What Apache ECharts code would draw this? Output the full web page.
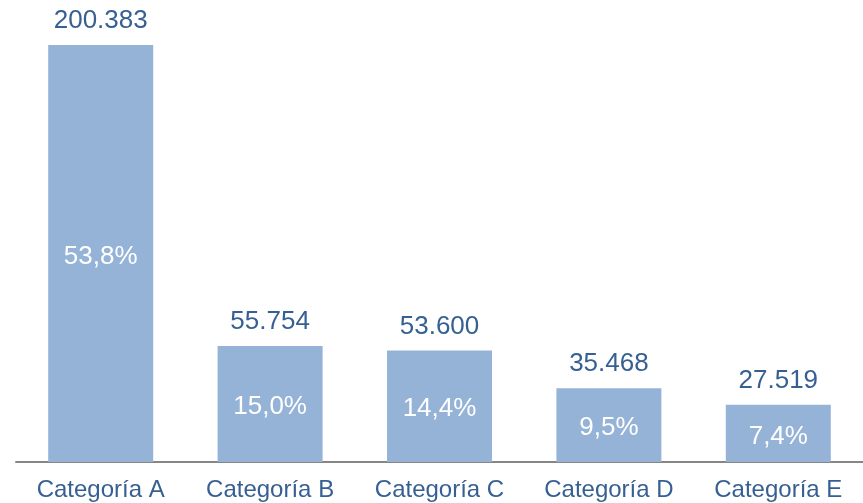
<!DOCTYPE html>
<html><head><meta charset="utf-8">
<script src="https://cdn.jsdelivr.net/npm/echarts@6/dist/echarts.min.js"></script>
<style>html,body{margin:0;padding:0;background:#fff}#c{width:863px;height:503px}</style>
</head><body><div id="c"></div>
<script>
const categories = ['Categoría A','Categoría B','Categoría C','Categoría D','Categoría E'];
const values = [200383, 55754, 53600, 35468, 27519];
const percents = ['53,8%','15,0%','14,4%','9,5%','7,4%'];

function fmt(v){ return String(v).replace(/\B(?=(\d{3})+(?!\d))/g,'.'); }
const font = '"Liberation Sans", Arial, sans-serif';
const chart = echarts.init(document.getElementById('c'));
chart.setOption({
  animation:false,
  grid:{left:16,right:0,top:45,bottom:41,containLabel:false},
  xAxis:{type:'category',data:categories,
    axisLine:{lineStyle:{color:'#868686',width:2}},
    axisTick:{show:false},
    axisLabel:{color:'#376092',fontSize:24,fontFamily:font,margin:16}},
  yAxis:{type:'value',min:0,max:200383,show:false,splitLine:{show:false}},
  series:[
    {type:'bar',data:values,barWidth:105,itemStyle:{color:'#95B3D7'},
     label:{show:true,position:'inside',offset:[0,3],color:'#fff',fontSize:26,fontFamily:font,
       formatter:p=>percents[p.dataIndex]}},
    {type:'bar',data:values,barWidth:105,barGap:'-100%',itemStyle:{color:'rgba(0,0,0,0)'},
     label:{show:true,position:'top',distance:11,color:'#376092',fontSize:26,fontFamily:font,
       formatter:p=>fmt(p.value)}}
  ]
});
</script></body></html>
